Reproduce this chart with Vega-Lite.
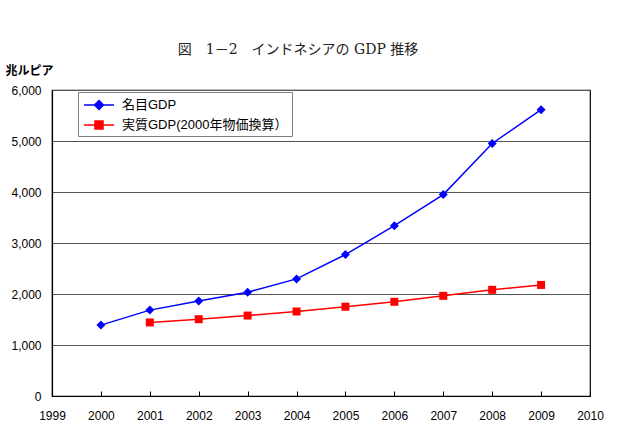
{
  "$schema": "https://vega.github.io/schema/vega-lite/v6.json",
  "width": 538,
  "height": 306,
  "autosize": {"type": "none"},
  "padding": {"left": 52, "top": 90, "right": 37, "bottom": 42},
  "background": "white",
  "title": {
    "text": "図　1－2　インドネシアの GDP 推移",
    "font": "DejaVu Serif, Noto Sans CJK JP",
    "fontSize": 14,
    "fontWeight": "normal",
    "color": "#222",
    "anchor": "middle",
    "dx": -23,
    "offset": 7
  },
  "config": {
    "view": {"stroke": "#000", "strokeWidth": 1.2},
    "font": "Liberation Sans, Noto Sans CJK JP"
  },
  "data": {
    "values": [
      {"year": 2000, "series": "名目GDP", "value": 1390},
      {"year": 2001, "series": "名目GDP", "value": 1684},
      {"year": 2002, "series": "名目GDP", "value": 1863},
      {"year": 2003, "series": "名目GDP", "value": 2036},
      {"year": 2004, "series": "名目GDP", "value": 2296},
      {"year": 2005, "series": "名目GDP", "value": 2774},
      {"year": 2006, "series": "名目GDP", "value": 3339},
      {"year": 2007, "series": "名目GDP", "value": 3950},
      {"year": 2008, "series": "名目GDP", "value": 4951},
      {"year": 2009, "series": "名目GDP", "value": 5613},
      {"year": 2001, "series": "実質GDP(2000年物価換算）", "value": 1442},
      {"year": 2002, "series": "実質GDP(2000年物価換算）", "value": 1506},
      {"year": 2003, "series": "実質GDP(2000年物価換算）", "value": 1577},
      {"year": 2004, "series": "実質GDP(2000年物価換算）", "value": 1657},
      {"year": 2005, "series": "実質GDP(2000年物価換算）", "value": 1751},
      {"year": 2006, "series": "実質GDP(2000年物価換算）", "value": 1847},
      {"year": 2007, "series": "実質GDP(2000年物価換算）", "value": 1964},
      {"year": 2008, "series": "実質GDP(2000年物価換算）", "value": 2082},
      {"year": 2009, "series": "実質GDP(2000年物価換算）", "value": 2178}
    ]
  },
  "encoding": {
    "x": {
      "field": "year",
      "type": "quantitative",
      "scale": {"domain": [1999, 2010], "nice": false, "zero": false},
      "axis": {
        "title": null,
        "values": [1999, 2000, 2001, 2002, 2003, 2004, 2005, 2006, 2007, 2008, 2009, 2010],
        "format": "d",
        "grid": false,
        "domainColor": "#000",
        "domainWidth": 1.2,
        "tickColor": "#000",
        "tickWidth": 1,
        "tickSize": -5,
        "labelPadding": 19,
        "labelFontSize": 12,
        "labelColor": "#000",
        "labelFlush": false,
        "labelOverlap": false
      }
    },
    "y": {
      "field": "value",
      "type": "quantitative",
      "scale": {"domain": [0, 6000], "nice": false},
      "axis": {
        "values": [0, 1000, 2000, 3000, 4000, 5000, 6000],
        "format": ",.0f",
        "title": "兆ルピア",
        "titleAngle": 0,
        "titleX": -47,
        "titleY": -20,
        "titleAlign": "left",
        "titleBaseline": "middle",
        "titleFontSize": 12,
        "titleFontWeight": "bold",
        "titleColor": "#000",
        "titleFont": "Noto Sans CJK JP",
        "grid": true,
        "gridColor": "#555",
        "gridWidth": 1,
        "ticks": false,
        "domainColor": "#000",
        "domainWidth": 1.2,
        "labelPadding": 11,
        "labelFontSize": 12,
        "labelColor": "#000"
      }
    },
    "color": {
      "field": "series",
      "type": "nominal",
      "sort": null,
      "scale": {"domain": ["名目GDP", "実質GDP(2000年物価換算）"], "range": ["#0000FF", "#FF0000"]},
      "legend": {
        "title": null,
        "orient": "none",
        "legendX": 26,
        "legendY": 2,
        "strokeColor": "#808080",
        "fillColor": "white",
        "padding": 4,
        "labelFontSize": 13,
        "labelColor": "#000",
        "labelLimit": 400,
        "labelOffset": 22,
        "symbolSize": 256,
        "symbolStrokeWidth": 1.5,
        "rowPadding": 3,
        "encoding": {
          "symbols": {
            "shape": {
              "condition": {"test": "datum.value === '名目GDP'", "value": "M-0.875,0H2.875M1,-0.56L1.56,0L1,0.56L0.44,0Z"},
              "value": "M-0.875,0H2.875M0.5,-0.5H1.5V0.5H0.5Z"
            },
            "fill": {
              "condition": {"test": "datum.value === '名目GDP'", "value": "#0000FF"},
              "value": "#FF0000"
            },
            "stroke": {
              "condition": {"test": "datum.value === '名目GDP'", "value": "#0000FF"},
              "value": "#FF0000"
            },
            "fillOpacity": {"value": 1},
            "strokeWidth": {"value": 1.5}
          }
        }
      }
    }
  },
  "layer": [
    {
      "mark": {"type": "line", "strokeWidth": 1.5}
    },
    {
      "transform": [{"filter": "datum.series === '名目GDP'"}],
      "mark": {"type": "point", "shape": "diamond", "size": 81, "filled": true, "opacity": 1}
    },
    {
      "transform": [{"filter": "datum.series !== '名目GDP'"}],
      "mark": {"type": "point", "shape": "square", "size": 64, "filled": true, "opacity": 1}
    }
  ]
}
